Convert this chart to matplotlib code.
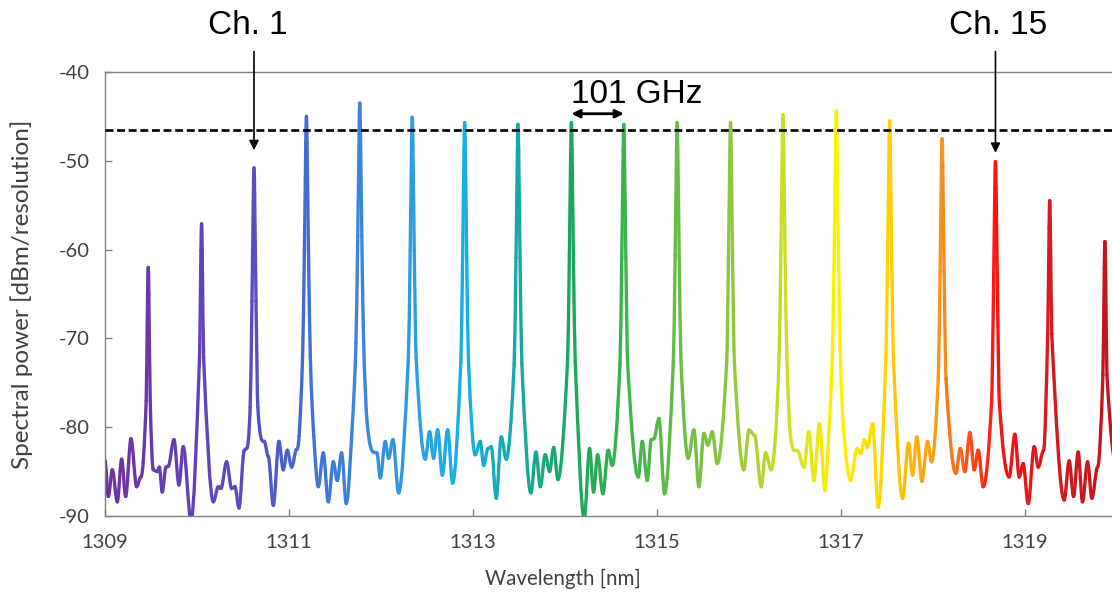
import numpy as np
import matplotlib
matplotlib.use('Agg')
import matplotlib.pyplot as plt
from matplotlib.collections import PatchCollection
from matplotlib.colors import LinearSegmentedColormap, Normalize
from matplotlib.patches import PathPatch
from matplotlib.path import Path

plt.rcParams['axes.unicode_minus'] = False

# comb lines: centre wavelength [nm] and peak power [dBm/resolution]
peak_nm = [1309.47, 1310.05, 1310.62, 1311.19, 1311.77, 1312.34, 1312.91, 1313.49, 1314.07, 1314.64,
           1315.22, 1315.80, 1316.37, 1316.95, 1317.53, 1318.10, 1318.68, 1319.27, 1319.87]
peak_dbm = [-62.0, -57.1, -50.8, -45.0, -43.5, -45.1, -45.7, -45.9, -45.7, -45.9,
            -45.7, -45.7, -44.8, -44.4, -45.5, -47.5, -50.1, -54.5, -59.1]

# line shape of a comb line: half width [nm] at a given depth below its top [dB]
flank_depth_db = [3, 15, 27, 36]
flank_halfwidth_nm = [0.007, 0.022, 0.042, 0.080]

# noise floor between the lines
floor_nm = [1309.000, 1309.036, 1309.080, 1309.134, 1309.181, 1309.225, 1309.283, 1309.344, 1309.391,
            1309.525, 1309.569, 1309.591, 1309.623, 1309.663, 1309.688, 1309.750, 1309.804, 1309.851, 1309.935,
            1310.178, 1310.232, 1310.261, 1310.322, 1310.377, 1310.413, 1310.457, 1310.514, 1310.540,
            1310.732, 1310.775, 1310.830, 1310.891, 1310.938, 1310.982, 1311.029, 1311.083,
            1311.319, 1311.373, 1311.428, 1311.482, 1311.525, 1311.572, 1311.623,
            1311.920, 1311.956, 1311.993, 1312.047, 1312.083, 1312.130, 1312.192,
            1312.482, 1312.529, 1312.572, 1312.616, 1312.667, 1312.725, 1312.779,
            1313.025, 1313.080, 1313.116, 1313.163, 1313.199, 1313.253, 1313.308, 1313.362,
            1313.630, 1313.685, 1313.732, 1313.786, 1313.833, 1313.877, 1313.924,
            1314.210, 1314.268, 1314.311, 1314.355, 1314.413, 1314.470, 1314.514,
            1314.797, 1314.840, 1314.895, 1314.938, 1314.967, 1315.022, 1315.083,
            1315.340, 1315.402, 1315.456, 1315.511, 1315.554, 1315.601, 1315.656,
            1315.945, 1316.000, 1316.061, 1316.134, 1316.181, 1316.242,
            1316.525, 1316.598, 1316.652, 1316.706, 1316.768, 1316.826,
            1317.105, 1317.177, 1317.217, 1317.253, 1317.289, 1317.344, 1317.405,
            1317.670, 1317.735, 1317.779, 1317.826, 1317.880, 1317.942, 1317.985,
            1318.250, 1318.297, 1318.347, 1318.402, 1318.449, 1318.492, 1318.547,
            1318.829, 1318.891, 1318.938, 1318.981, 1319.036, 1319.101, 1319.145, 1319.203,
            1319.427, 1319.481, 1319.529, 1319.579, 1319.626, 1319.681, 1319.728, 1319.790,
            1320.000]
floor_dbm = [-83.7, -87.8, -84.8, -88.4, -83.6, -87.8, -81.3, -86.7, -85.6,
             -84.8, -85.0, -84.5, -87.3, -84.5, -84.4, -81.4, -86.5, -82.2, -90.5,
             -88.4, -86.7, -86.9, -83.9, -86.9, -86.7, -89.1, -82.6, -82.4,
             -81.6, -83.3, -88.8, -81.6, -84.8, -82.6, -84.5, -82.5,
             -86.7, -82.9, -88.4, -83.9, -86.0, -82.9, -88.6,
             -82.8, -82.9, -85.7, -81.6, -83.5, -81.4, -87.4,
             -83.6, -80.5, -83.5, -80.3, -85.4, -80.3, -86.3,
             -83.1, -81.6, -84.3, -82.4, -82.2, -88.0, -81.1, -83.6,
             -87.4, -82.8, -86.7, -83.1, -85.0, -82.3, -85.9,
             -90.3, -82.4, -87.3, -83.1, -87.5, -82.6, -84.3,
             -85.6, -81.6, -86.0, -81.4, -81.3, -79.0, -87.5,
             -83.5, -80.3, -86.7, -80.7, -82.0, -80.5, -84.1,
             -84.8, -80.3, -80.9, -86.7, -82.9, -84.8,
             -82.6, -84.5, -80.5, -86.0, -79.6, -87.1,
             -86.0, -82.4, -83.0, -81.4, -82.3, -79.6, -89.0,
             -88.0, -81.8, -85.4, -81.1, -86.1, -81.6, -83.9,
             -85.2, -82.4, -85.0, -80.6, -84.8, -82.6, -86.7,
             -85.6, -80.8, -85.6, -84.1, -88.6, -82.2, -84.5, -82.6,
             -88.2, -83.8, -87.8, -82.8, -88.4, -83.9, -88.0, -84.5,
             -84.5]

# colour of the trace along the wavelength axis
color_nm = [1309.0, 1310.6, 1311.2, 1311.8, 1312.4, 1312.9, 1313.5, 1314.1, 1314.7,
            1315.3, 1315.8, 1316.4, 1317.0, 1317.5, 1318.1, 1318.7, 1319.3, 1320.0]
color_hex = ['#7030a0', '#5a4cc4', '#3f6fd4', '#3a86dc', '#2aa0e2', '#14b0e6', '#17a8a0', '#1ba65a',
             '#3db54a', '#6abf45', '#8ec63f', '#ccde27', '#fff200', '#ffd400', '#f7941d', '#ff1010',
             '#d71920', '#c0141c']

x_ticks = [1309, 1311, 1313, 1315, 1317, 1319]
y_ticks = [-90, -80, -70, -60, -50, -40]
ref_level = -46.5

# build the trace: floor points + flank points of every comb line
wl = list(floor_nm)
pw = list(floor_dbm)
flank = [False] * len(floor_nm)
for c, top in zip(peak_nm, peak_dbm):
    wl.append(c)
    pw.append(top)
    flank.append(False)
    for depth, hw in zip(flank_depth_db, flank_halfwidth_nm):
        level = top - depth
        if level < -81:
            continue
        wl += [c - hw, c + hw]
        pw += [level, level]
        flank += [True, True]
wl = np.array(wl)
pw = np.array(pw)
flank = np.array(flank)
order = np.argsort(wl)
wl, pw, flank = wl[order], pw[order], flank[order]

# tangent at each point: flat at the ripple extrema and line tops, along the flank otherwise
slope = np.zeros_like(wl)
for i in np.where(flank)[0]:
    slope[i] = (pw[i + 1] - pw[i - 1]) / (wl[i + 1] - wl[i - 1])

fig = plt.figure(figsize=(11.12, 5.97), dpi=100)
ax = fig.add_axes([0.0944, 0.1357, 0.910, 0.7437])

cmap = LinearSegmentedColormap.from_list(
    'spectrum', list(zip((np.array(color_nm) - 1309.0) / 11.0, color_hex)))
norm = Normalize(1309.0, 1320.0)

# one cubic Bezier piece per interval, coloured by its wavelength
patches = []
colors = []
for i in range(len(wl) - 1):
    h = (wl[i + 1] - wl[i]) / 3.0
    verts = [(wl[i], pw[i]),
             (wl[i] + h, pw[i] + slope[i] * h),
             (wl[i + 1] - h, pw[i + 1] - slope[i + 1] * h),
             (wl[i + 1], pw[i + 1])]
    codes = [Path.MOVETO, Path.CURVE4, Path.CURVE4, Path.CURVE4]
    patches.append(PathPatch(Path(verts, codes)))
    colors.append(cmap(norm(0.5 * (wl[i] + wl[i + 1]))))
pc = PatchCollection(patches, facecolors='none', edgecolors=colors, linewidths=2.4,
                     capstyle='round', joinstyle='round')
ax.add_collection(pc)

ax.axhline(ref_level, color='black', lw=1.9, ls=(0, (3.0, 1.4)), zorder=5)

ax.set_xlim(1309, 1320)
ax.set_ylim(-90, -40)
ax.set_xticks(x_ticks)
ax.set_yticks(y_ticks)

for s in ['left', 'bottom', 'top', 'right']:
    ax.spines[s].set_color('#7f7f7f')
    ax.spines[s].set_linewidth(1.0)
ax.tick_params(direction='in', length=5, width=1.0, color='#7f7f7f',
               labelcolor='#404040', labelsize=14.5)
ax.tick_params(axis='x', pad=13)
ax.tick_params(axis='y', pad=11)
for lab in ax.get_xticklabels() + ax.get_yticklabels():
    lab.set_family('Lato')

ax.set_xlabel('Wavelength [nm]', fontsize=14.8, family='Lato', color='#404040')
ax.set_ylabel('Spectral power [dBm/resolution]', fontsize=17.5, family='Lato', color='#404040')
ax.xaxis.set_label_coords(0.4526, -0.118)
ax.yaxis.set_label_coords(-0.071, 0.5)

# channel markers
ann_font = ['Liberation Sans Narrow', 'Liberation Sans']
arrow = dict(arrowstyle='-|>', color='black', lw=1.2, mutation_scale=14, shrinkA=0, shrinkB=0)
ax.annotate('', xy=(peak_nm[2], -48.8), xytext=(peak_nm[2], -37.7),
            arrowprops=arrow, annotation_clip=False)
ax.annotate('', xy=(peak_nm[16], -49.1), xytext=(peak_nm[16], -37.7),
            arrowprops=arrow, annotation_clip=False)
ax.text(1310.55, -34.8, 'Ch. 1', ha='center', va='center', fontsize=24, family=ann_font,
        clip_on=False)
ax.text(1318.71, -34.8, 'Ch. 15', ha='center', va='center', fontsize=24, family=ann_font,
        clip_on=False)

# channel spacing
ax.annotate('', xy=(peak_nm[8], -44.7), xytext=(peak_nm[9], -44.7),
            arrowprops=dict(arrowstyle='<|-|>', color='black', lw=2.0, mutation_scale=12,
                            shrinkA=0, shrinkB=0))
ax.text(1314.78, -42.5, '101 GHz', ha='center', va='center', fontsize=24, family=ann_font)

fig.savefig('out.png', dpi=100)
